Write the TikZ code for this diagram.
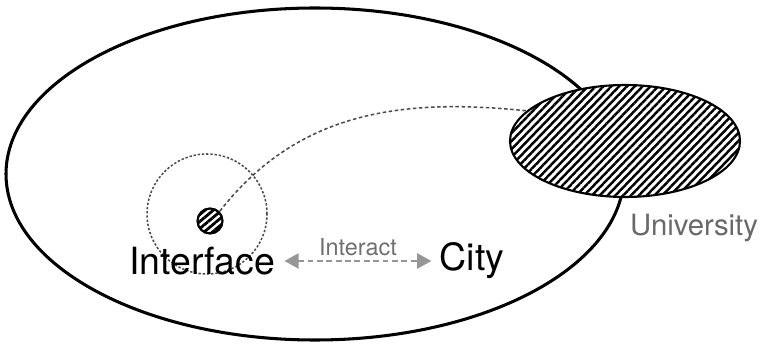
\documentclass[tikz,border=0pt]{standalone}
\usepackage{fontspec}
\setmainfont{TeX Gyre Heros}
\usetikzlibrary{arrows.meta, positioning, shapes.geometric, patterns.meta}
\definecolor{linkgray}{RGB}{150,150,150}
\definecolor{labelgray}{RGB}{105,105,105}
\tikzset{
  region/.style = {ellipse, draw=black, line width=2.6pt, inner sep=0pt},
  hatched/.style = {ellipse, draw=black, line width=1.8pt, inner sep=0pt,
                    preaction={fill=white},
                    pattern={Lines[angle=46,distance=4.8pt,line width=2.1pt]}},
  zone/.style   = {circle, draw=linkgray!50!black, line width=1.3pt,
                   dash pattern=on 2pt off 1.6pt, inner sep=0pt},
  bigtext/.style = {font=\fontsize{32}{36}\selectfont, inner sep=0pt},
  link/.style   = {draw=linkgray!50!black, line width=1.3pt,
                   dash pattern=on 3pt off 2.2pt},
  arrow/.style  = {{Triangle[length=12pt,width=13pt]}-{Triangle[length=12pt,width=13pt]},
                   draw=linkgray, line width=1.3pt, dash pattern=on 5pt off 3pt},
}
\begin{document}
\begin{tikzpicture}[x=0.03cm, y=-0.03cm]
\useasboundingbox (0,0) rectangle (760,347);

% city and university
\node[region, minimum width=618*0.03cm, minimum height=332*0.03cm] (city area) at (315,174) {};
\node[hatched, minimum width=230*0.03cm, minimum height=112*0.03cm] (campus) at (625,141) {};

% interface
\node[zone, minimum size=120*0.03cm] (reach) at (207,214) {};
\node[hatched, line width=1.9pt, minimum size=25*0.03cm,
      pattern={Lines[angle=40,distance=4.6pt,line width=2.4pt]}] (iface) at (210,221) {};
\draw[link] (iface.north east) to[out=52, in=174] (campus.163);

% labels
\node[bigtext] (ilabel) at (202,261) {Interface};
\node[bigtext] (clabel) at (472,261) {City};
\draw[arrow] ([xshift=8pt]ilabel.east) -- coordinate[midway] (mid) ([xshift=-7pt]clabel.west);
\node[font=\fontsize{20}{24}\selectfont, text=linkgray!75!black, inner sep=0pt, above=4pt of mid] (act) {Interact};
\node[font=\fontsize{25}{29}\selectfont, text=labelgray, inner sep=0pt] (ulabel) at (694,228) {University};

\end{tikzpicture}
\end{document}
